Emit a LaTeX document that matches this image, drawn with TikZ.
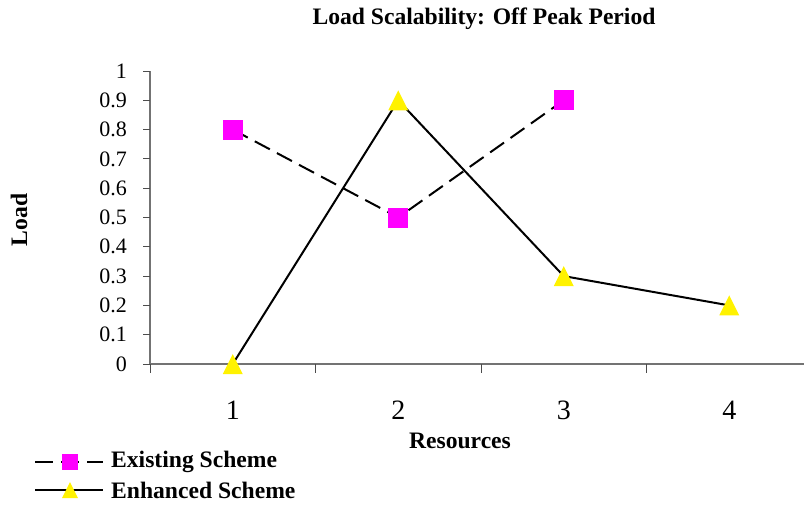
\documentclass[tikz,border=0pt]{standalone}
\usepackage{fontspec}
\setmainfont{Liberation Serif}
\begin{document}
\begin{tikzpicture}[x=1pt,y=-1pt,
  axisline/.style={draw=black!55,line width=1.5pt},
  tickline/.style={draw=black!70,line width=1pt},
  ylab/.style={anchor=east,font=\fontsize{22}{24}\selectfont,inner sep=0pt},
  xlab/.style={anchor=center,font=\fontsize{28}{30}\selectfont,inner sep=0pt},
  boldlab/.style={font=\fontsize{23.6}{25}\selectfont\bfseries,inner sep=0pt},
  existline/.style={line width=2pt,dash pattern=on 17pt off 8pt},
  enhline/.style={line width=2pt},
  sqmark/.style={rectangle,fill={rgb,255:red,255;green,0;blue,255},minimum size=20pt,inner sep=0pt},
  sqsmall/.style={rectangle,fill={rgb,255:red,255;green,0;blue,255},minimum size=16pt,inner sep=0pt},
  tri/.pic={\fill[yellow] (-10,10) -- (10,10) -- (0,-10) -- cycle;},
  trismall/.pic={\fill[yellow] (-8,8) -- (8,8) -- (0,-8) -- cycle;}
]
\useasboundingbox (0,0) rectangle (804,504);
% axes
\coordinate (o) at (150,364);
\coordinate (ytop) at (150,71);
\coordinate (xend) at (804,364);
\draw[axisline] (ytop) -- (o) -- (xend);
\foreach \i in {0,...,10}{
  \pgfmathsetmacro{\yy}{364-29.3*\i}
  \draw[tickline] (143,\yy) -- (150,\yy);
}
\node[ylab] at (127,364) {0};
\node[ylab] at (127,334.7) {0.1};
\node[ylab] at (127,305.4) {0.2};
\node[ylab] at (127,276.1) {0.3};
\node[ylab] at (127,246.8) {0.4};
\node[ylab] at (127,217.5) {0.5};
\node[ylab] at (127,188.2) {0.6};
\node[ylab] at (127,158.9) {0.7};
\node[ylab] at (127,129.6) {0.8};
\node[ylab] at (127,100.3) {0.9};
\node[ylab] at (127,71) {1};
\foreach \xx in {150,315.5,481,646.5}{
  \draw[tickline] (\xx,364) -- (\xx,373);
}
\node[xlab] at (232.75,410) {1};
\node[xlab] at (398.25,410) {2};
\node[xlab] at (563.75,410) {3};
\node[xlab] at (729.25,410) {4};
% titles
\node[boldlab] (title) at (484,19) {Load Scalability: Off Peak Period};
\node[boldlab,rotate=90] (ytitle) at (19,220) {Load};
\node[boldlab] (xtitle) at (460,441) {Resources};
% data points
\coordinate (e1) at (232.75,129.6);
\coordinate (e2) at (398.25,217.5);
\coordinate (e3) at (563.75,100.3);
\coordinate (n1) at (232.75,364);
\coordinate (n2) at (398.25,100.3);
\coordinate (n3) at (563.75,276.1);
\coordinate (n4) at (729.25,305.4);
\draw[existline] (e1) -- (e2) -- (e3);
\draw[enhline] (n1) -- (n2) -- (n3) -- (n4);
\node[sqmark] (m1) at (e1) {};
\node[sqmark] (m2) at (e2) {};
\node[sqmark] (m3) at (e3) {};
\pic at (n1) {tri};
\pic at (n2) {tri};
\pic at (n3) {tri};
\pic at (n4) {tri};
% legend
\coordinate (l1a) at (35,462);
\coordinate (l1b) at (103,462);
\coordinate (l1m) at (70,462);
\coordinate (l2a) at (35,490);
\coordinate (l2b) at (103,490);
\coordinate (l2m) at (70,490);
\draw[line width=2pt,dash pattern=on 18pt off 8pt] (l1a) -- (l1b);
\node[sqsmall] (lsq) at (l1m) {};
\draw[enhline] (l2a) -- (l2b);
\pic at (l2m) {trismall};
\node[boldlab,anchor=west] (leg1) at (111,462) {Existing Scheme};
\node[boldlab,anchor=west] (leg2) at (111,490) {Enhanced Scheme};
\end{tikzpicture}
\end{document}
